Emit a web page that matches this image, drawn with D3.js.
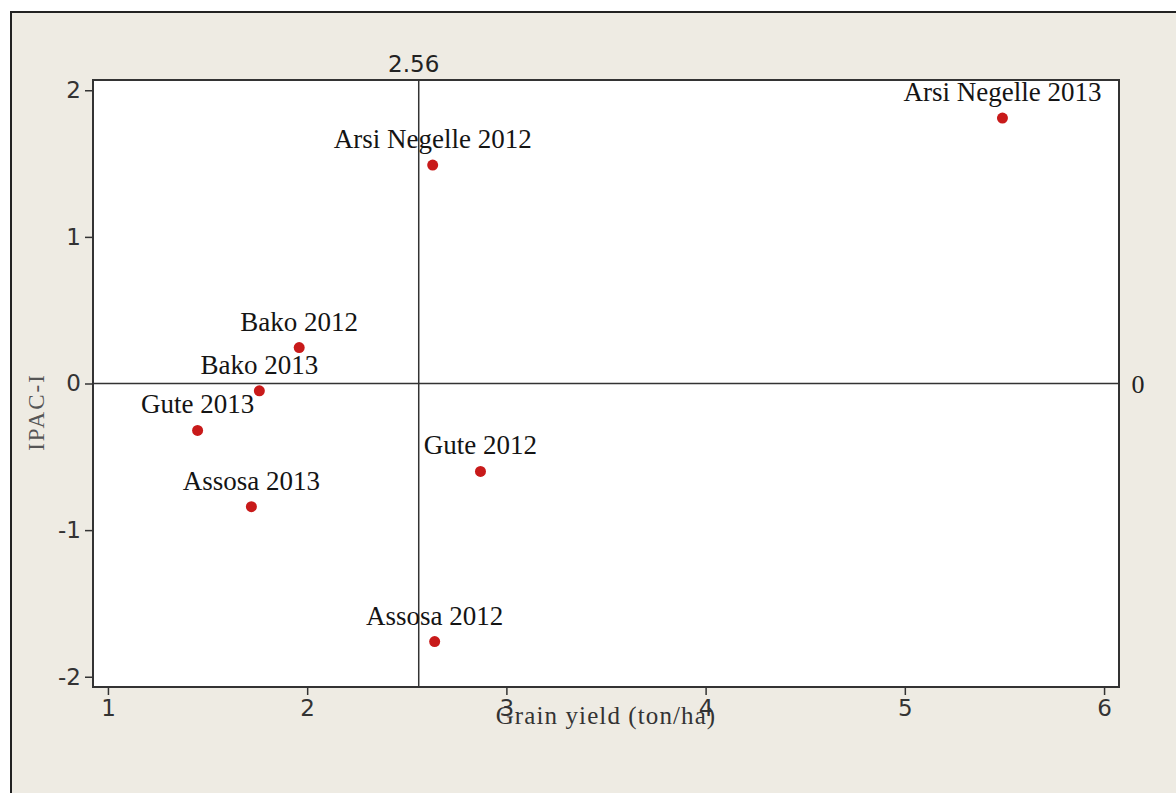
<!DOCTYPE html>
<html>
<head>
<meta charset="utf-8">
<script src="https://cdn.jsdelivr.net/npm/d3@7"></script>
<style>
  html, body { margin: 0; padding: 0; background: #fff; }
  svg { display: block; }
</style>
</head>
<body>
<div id="chart"></div>
<script>
// site-year environments, grain yield (ton/ha) and IPAC-I score
var sites = ["Arsi Negelle 2013", "Arsi Negelle 2012", "Bako 2012", "Bako 2013",
             "Gute 2013", "Assosa 2013", "Gute 2012", "Assosa 2012"];
var grainYield = [5.49, 2.63, 1.96, 1.76, 1.45, 1.72, 2.87, 2.64];
var ipac = [1.81, 1.49, 0.245, -0.05, -0.32, -0.84, -0.60, -1.76];
var xTicks = [1, 2, 3, 4, 5, 6];
var yTicks = [-2, -1, 0, 1, 2];
var refX = 2.56;   // mean grain yield
var refY = 0;

var W = 1176, H = 793;
var plot = {left: 93, top: 80, right: 1119, bottom: 687};

var svg = d3.select("#chart").append("svg")
        .attr("width", W)
        .attr("height", H);

// beige frame
svg.append("rect")
        .attr("x", 11).attr("y", 12)
        .attr("width", W).attr("height", H)
        .attr("fill", "#eeebe3")
        .attr("stroke", "#222")
        .attr("stroke-width", 2);

var x = d3.scaleLinear()
        .domain([0.925, 6.075])
        .range([plot.left, plot.right]);

var y = d3.scaleLinear()
        .domain([-2.07, 2.07])
        .range([plot.bottom, plot.top]);

svg.append("rect")
        .attr("x", plot.left).attr("y", plot.top)
        .attr("width", plot.right - plot.left)
        .attr("height", plot.bottom - plot.top)
        .attr("fill", "#fff");

var xAxis = d3.axisBottom(x)
        .tickValues(xTicks)
        .tickFormat(d3.format("d"))
        .tickSize(8)
        .tickSizeOuter(0);

var yAxis = d3.axisLeft(y)
        .tickValues(yTicks)
        .tickFormat(d3.format("d"))
        .tickSize(8)
        .tickSizeOuter(0);

var gx = svg.append("g")
        .attr("class", "x axis")
        .attr("transform", "translate(0," + plot.bottom + ")")
        .call(xAxis);

var gy = svg.append("g")
        .attr("class", "y axis")
        .attr("transform", "translate(" + plot.left + ",0)")
        .call(yAxis);

[gx, gy].forEach(function (g) {
    g.select(".domain").remove();
    g.selectAll("line").attr("stroke", "#333").attr("stroke-width", 1.5);
    g.selectAll("text")
            .attr("fill", "#333")
            .style("font-family", "'DejaVu Sans', sans-serif")
            .style("font-size", "23px");
});
gx.selectAll("text").attr("y", 13);
gy.selectAll("text").attr("x", -12).text(function (d) { return d < 0 ? "-" + Math.abs(d) : d; });

// reference lines
svg.append("line")
        .attr("x1", x(refX)).attr("x2", x(refX))
        .attr("y1", plot.top).attr("y2", plot.bottom)
        .attr("stroke", "#333").attr("stroke-width", 1.5);

svg.append("line")
        .attr("x1", plot.left).attr("x2", plot.right)
        .attr("y1", y(refY)).attr("y2", y(refY))
        .attr("stroke", "#333").attr("stroke-width", 1.5);

svg.append("text")
        .attr("x", x(refX) - 5)
        .attr("y", plot.top - 8)
        .attr("text-anchor", "middle")
        .attr("fill", "#222")
        .style("font-family", "'DejaVu Sans', sans-serif")
        .style("font-size", "23px")
        .text(refX);

svg.append("text")
        .attr("x", plot.right + 19)
        .attr("y", y(refY))
        .attr("dy", "0.35em")
        .attr("text-anchor", "middle")
        .attr("fill", "#222")
        .style("font-family", "'Liberation Serif', serif")
        .style("font-size", "26px")
        .text(refY);

// plot border
svg.append("rect")
        .attr("x", plot.left).attr("y", plot.top)
        .attr("width", plot.right - plot.left)
        .attr("height", plot.bottom - plot.top)
        .attr("fill", "none")
        .attr("stroke", "#333")
        .attr("stroke-width", 2);

var pts = sites.map(function (s, i) {
    return {site: s, yield: grainYield[i], ipac: ipac[i]};
});

svg.append("g").selectAll("circle")
        .data(pts)
        .enter().append("circle")
        .attr("cx", function (d) { return x(d.yield); })
        .attr("cy", function (d) { return y(d.ipac); })
        .attr("r", 5.5)
        .attr("fill", "#c81a1a");

svg.append("g").selectAll("text")
        .data(pts)
        .enter().append("text")
        .attr("x", function (d) { return x(d.yield); })
        .attr("y", function (d) { return y(d.ipac) - 17; })
        .attr("text-anchor", "middle")
        .attr("fill", "#141414")
        .style("font-family", "'Liberation Serif', serif")
        .style("font-size", "27px")
        .text(function (d) { return d.site; });

// axis titles (the original lets the x title run over the tick labels)
svg.append("text")
        .attr("x", 606)
        .attr("y", 724)
        .attr("text-anchor", "middle")
        .attr("fill", "#333")
        .style("font-family", "'Liberation Serif', serif")
        .style("font-size", "25px")
        .style("letter-spacing", "1.1px")
        .text("Grain yield (ton/ha)");

svg.append("text")
        .attr("transform", "translate(44,412) rotate(-90)")
        .attr("text-anchor", "middle")
        .attr("fill", "#555")
        .style("font-family", "'Liberation Serif', serif")
        .style("font-size", "23px")
        .style("letter-spacing", "2px")
        .text("IPAC-I");
</script>
</body>
</html>
